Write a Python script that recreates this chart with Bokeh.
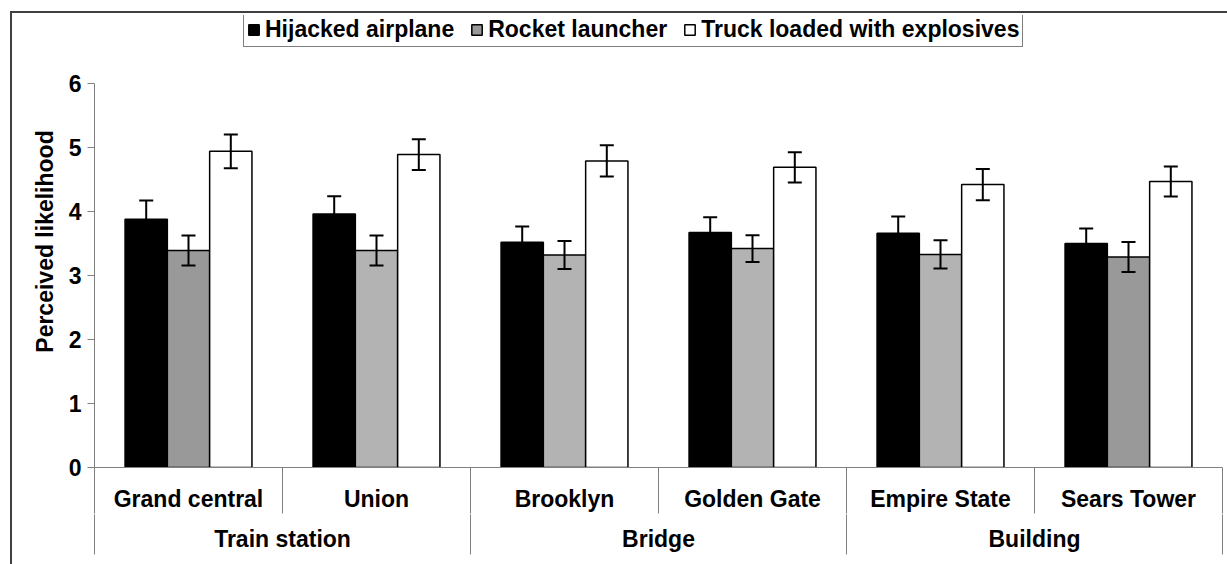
from bokeh.plotting import figure
from bokeh.models import (ColumnDataSource, Range1d, LinearAxis, FixedTicker, Whisker, TeeHead,
                          Legend, LegendItem)
from bokeh.transform import dodge
from bokeh.embed import file_html
from bokeh.resources import INLINE

# ---------------- data ----------------
groups = ["Train station", "Bridge", "Building"]
group_sizes = [2, 2, 2]
subcategories = ["Grand central", "Union", "Brooklyn", "Golden Gate", "Empire State", "Sears Tower"]
series_names = ["Hijacked airplane", "Rocket launcher", "Truck loaded with explosives"]

hijacked = [3.88, 3.96, 3.52, 3.67, 3.66, 3.50]
hijacked_err = [0.29, 0.28, 0.245, 0.24, 0.26, 0.235]
rocket = [3.39, 3.39, 3.32, 3.42, 3.33, 3.29]
rocket_err = [0.235, 0.235, 0.22, 0.21, 0.22, 0.235]
truck = [4.94, 4.89, 4.79, 4.69, 4.42, 4.47]
truck_err = [0.265, 0.24, 0.245, 0.235, 0.245, 0.235]

y_ticks = [0, 1, 2, 3, 4, 5, 6]
y_label = "Perceived likelihood"

# ---------------- styles / layout ----------------
FONT = "Liberation Sans"
FS = "23px"
AXIS_GRAY = "#808080"
rocket_fill = ["#999999", "#b3b3b3", "#b3b3b3", "#b3b3b3", "#b3b3b3", "#999999"]
W, H = 1227, 564
BAR_W = 0.225
FRAME_TOP, AXIS_TOP, AXIS_BOTTOM = 15, 83, 467   # pixel rows: frame top, value 6, value 0

# category slots on a numeric axis: slot i spans [i, i+1]
n_sub = len(subcategories)
sub_pos = [i + 0.5 for i in range(n_sub)]
sub_bounds = list(range(n_sub + 1))
grp_bounds = [0]
for s in group_sizes:
    grp_bounds.append(grp_bounds[-1] + s)
grp_pos = [(a + b) / 2 for a, b in zip(grp_bounds[:-1], grp_bounds[1:])]

src = ColumnDataSource(dict(
    pos=sub_pos,
    sub=subcategories,
    hijacked=hijacked,
    hijacked_lo=[v - e for v, e in zip(hijacked, hijacked_err)],
    hijacked_hi=[v + e for v, e in zip(hijacked, hijacked_err)],
    rocket=rocket,
    rocket_lo=[v - e for v, e in zip(rocket, rocket_err)],
    rocket_hi=[v + e for v, e in zip(rocket, rocket_err)],
    truck=truck,
    truck_lo=[v - e for v, e in zip(truck, truck_err)],
    truck_hi=[v + e for v, e in zip(truck, truck_err)],
    rocket_fill=rocket_fill,
))

y_max = y_ticks[-1]
y_end = y_max * (AXIS_BOTTOM - FRAME_TOP) / (AXIS_BOTTOM - AXIS_TOP)

p = figure(width=W, height=H, output_backend="svg", toolbar_location=None,
           x_range=Range1d(0, n_sub), y_range=Range1d(y_ticks[0], y_end),
           x_axis_location=None,
           min_border_left=94, min_border_right=5, min_border_top=FRAME_TOP,
           min_border_bottom=H - AXIS_BOTTOM)
p.outline_line_color = None
p.xgrid.visible = False
p.ygrid.visible = False
p.background_fill_color = "white"
p.border_fill_color = "white"

# outer chart frame (top and left edges; the rest lies outside the picture)
p.stylesheets = [":host::after { content: ''; position: absolute; left: 10px; top: 11px; "
                 "right: 0px; bottom: 0px; border-left: 2px solid #404040; "
                 "border-top: 2px solid #404040; pointer-events: none; }"]

# bars
r_h = p.vbar(x=dodge("pos", -BAR_W), top="hijacked", width=BAR_W, source=src,
             fill_color="black", line_color="black", line_width=1.5)
r_r = p.vbar(x=dodge("pos", 0.0), top="rocket", width=BAR_W, source=src,
             fill_color="rocket_fill", line_color="black", line_width=1.5)
r_t = p.vbar(x=dodge("pos", BAR_W), top="truck", width=BAR_W, source=src,
             fill_color="white", line_color="black", line_width=1.5)

# error bars
for key, off in (("hijacked", -BAR_W), ("rocket", 0.0), ("truck", BAR_W)):
    p.add_layout(Whisker(source=src, base=dodge("pos", off),
                         upper=key + "_hi", lower=key + "_lo", level="annotation",
                         line_color="black", line_width=2,
                         upper_head=TeeHead(size=14, line_color="black", line_width=2),
                         lower_head=TeeHead(size=14, line_color="black", line_width=2)))

# y axis (line and ticks only from 0 to 6)
ya = p.yaxis[0]
ya.ticker = FixedTicker(ticks=y_ticks)
ya.bounds = (y_ticks[0], y_max)
ya.axis_line_color = AXIS_GRAY
ya.major_tick_line_color = AXIS_GRAY
ya.minor_tick_line_color = None
ya.major_tick_in = 0
ya.major_tick_out = 7
ya.major_label_standoff = 6
ya.major_label_text_font = FONT
ya.major_label_text_font_style = "bold"
ya.major_label_text_font_size = FS
ya.major_label_text_color = "black"
ya.axis_label = y_label
ya.axis_label_text_font = FONT
ya.axis_label_text_font_style = "bold"
ya.axis_label_text_font_size = FS
ya.axis_label_text_color = "black"
ya.axis_label_standoff = 8

# x axes: category labels at slot centres, separators as minor ticks at slot boundaries
def label_axis(ticks, names, bounds, sep_len, standoff, line_color):
    return LinearAxis(ticker=FixedTicker(ticks=ticks, minor_ticks=bounds),
                      major_label_overrides={t: n for t, n in zip(ticks, names)},
                      axis_line_color=line_color, major_tick_line_color=None,
                      major_tick_in=0, major_tick_out=0,
                      minor_tick_line_color=AXIS_GRAY, minor_tick_in=0, minor_tick_out=sep_len,
                      major_label_standoff=standoff,
                      major_label_text_font=FONT, major_label_text_font_style="bold",
                      major_label_text_font_size=FS, major_label_text_color="black")

p.add_layout(label_axis(sub_pos, subcategories, sub_bounds, 46, -28, AXIS_GRAY), "below")
p.add_layout(label_axis(grp_pos, groups, grp_bounds, 40, -29, None), "below")

# legend (inside the frame, above the value axis top)
items = [LegendItem(label=series_names[0], renderers=[r_h]),
         LegendItem(label=series_names[1], renderers=[r_r], index=0),
         LegendItem(label=series_names[2], renderers=[r_t])]
legend = Legend(items=items, orientation="horizontal", location=(149, AXIS_BOTTOM - 47),
                border_line_color="black", border_line_width=1, background_fill_color="white",
                background_fill_alpha=1, label_text_font=FONT, label_text_font_style="bold",
                label_text_font_size=FS, label_text_color="black",
                glyph_width=13, glyph_height=13, padding=3, spacing=16, label_standoff=5,
                margin=0)
p.add_layout(legend, "center")

open("out.html", "w").write(file_html(p, INLINE))
